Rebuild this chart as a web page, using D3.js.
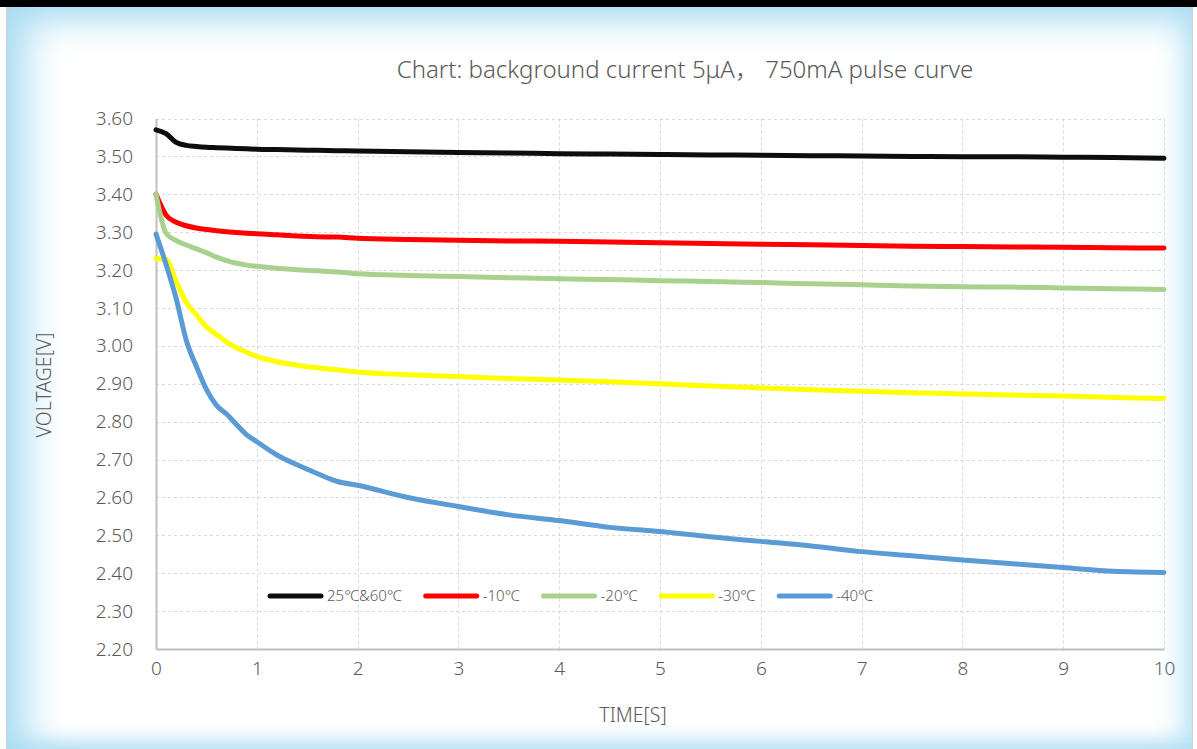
<!DOCTYPE html>
<html>
<head>
<meta charset="utf-8">
<script src="https://cdn.jsdelivr.net/npm/d3@7"></script>
<style>
	body { margin: 0; background: #fff; width: 1197px; height: 749px; overflow: hidden; position: relative; }
	#topbar { position: absolute; left: 0; top: 0; width: 1197px; height: 7px; background: #000; }
	#frame {
		position: absolute; left: 6px; top: 7px; width: 1185px; height: 742px;
		border-left: 1px solid #d0d0d0; border-right: 1px solid #d0d0d0;
		background: #fff;
		box-shadow: inset 45px 0 40px -25px #a9dcf2, inset 0 35px 35px -22px #a9dcf2,
			inset -25px 0 30px -18px #b3e0f3, inset 0 -18px 20px -10px #b3e0f3;
	}
	#chart { position: absolute; left: 0; top: 0; }
	text { font-family: "Noto Sans", "Noto Sans CJK SC", sans-serif; font-weight: 300; fill: #595959; }
</style>
</head>
<body>
<div id="topbar"></div>
<div id="frame"></div>
<div id="chart"></div>
<script>
(function() {
	var width = 1197,
		height = 749;

	// time in seconds
	var times = [0, 0.1, 0.2, 0.3, 0.4, 0.5, 0.6, 0.7, 0.8, 0.9, 1.0, 1.2, 1.4, 1.6, 1.8,
		2, 2.5, 3, 3.5, 4, 4.5, 5, 5.5, 6, 6.5, 7, 7.5, 8, 8.5, 9, 9.5, 10];

	var v25 = [3.570, 3.560, 3.537, 3.529, 3.526, 3.524, 3.523, 3.522, 3.521, 3.520, 3.519, 3.518, 3.517, 3.516, 3.515,
		3.514, 3.512, 3.510, 3.509, 3.507, 3.506, 3.505, 3.504, 3.503, 3.502, 3.501, 3.500, 3.499, 3.499, 3.498, 3.497, 3.495];
	var vm10 = [3.400, 3.345, 3.326, 3.317, 3.311, 3.307, 3.304, 3.301, 3.299, 3.297, 3.296, 3.293, 3.290, 3.288, 3.287,
		3.284, 3.281, 3.279, 3.277, 3.276, 3.274, 3.272, 3.270, 3.268, 3.267, 3.265, 3.263, 3.262, 3.261, 3.260, 3.259, 3.258];
	var vm20 = [3.400, 3.297, 3.278, 3.266, 3.256, 3.246, 3.234, 3.225, 3.218, 3.213, 3.210, 3.205, 3.201, 3.198, 3.195,
		3.190, 3.186, 3.183, 3.180, 3.177, 3.175, 3.172, 3.170, 3.167, 3.164, 3.161, 3.158, 3.156, 3.155, 3.153, 3.151, 3.149];
	var vm30 = [3.230, 3.228, 3.170, 3.115, 3.082, 3.050, 3.030, 3.010, 2.995, 2.983, 2.972, 2.958, 2.949, 2.942, 2.937,
		2.931, 2.924, 2.919, 2.914, 2.910, 2.905, 2.900, 2.894, 2.889, 2.884, 2.880, 2.876, 2.873, 2.870, 2.868, 2.864, 2.861];
	var vm40 = [3.295, 3.215, 3.125, 3.015, 2.946, 2.885, 2.843, 2.820, 2.792, 2.765, 2.747, 2.712, 2.686, 2.663, 2.642,
		2.632, 2.600, 2.576, 2.554, 2.539, 2.521, 2.510, 2.496, 2.484, 2.472, 2.457, 2.446, 2.435, 2.425, 2.415, 2.405, 2.402];

	var seriesNames = ["25℃&60℃", "-10℃", "-20℃", "-30℃", "-40℃"];
	var seriesValues = [v25, vm10, vm20, vm30, vm40];
	var colors = ["#0d0d0d", "#ff0000", "#a9d18e", "#ffff00", "#5b9bd5"];

	var xTicks = [0, 1, 2, 3, 4, 5, 6, 7, 8, 9, 10];
	var yTicks = [2.2, 2.3, 2.4, 2.5, 2.6, 2.7, 2.8, 2.9, 3.0, 3.1, 3.2, 3.3, 3.4, 3.5, 3.6];

	var titleText = "Chart: background current 5μA，  750mA pulse curve";
	var xTitle = "TIME[S]";
	var yTitle = "VOLTAGE[V]";

	var svg = d3.select("#chart")
		.append("svg")
		.attr("width", width)
		.attr("height", height)

	var x = d3.scaleLinear().domain([0, 10]).range([156, 1164])
	var y = d3.scaleLinear().domain([2.2, 3.6]).range([649, 118.5])

	// grid
	svg.append("g")
		.selectAll("line.hg")
		.data(yTicks.slice(1))
		.enter().append("line")
		.attr("x1", x(0))
		.attr("x2", x(10))
		.attr("y1", function(d) { return Math.round(y(d)) + 0.5 })
		.attr("y2", function(d) { return Math.round(y(d)) + 0.5 })
		.attr("stroke", "#d9d9d9")
		.attr("stroke-dasharray", "3,3")

	svg.append("g")
		.selectAll("line.vg")
		.data(xTicks.slice(1))
		.enter().append("line")
		.attr("x1", function(d) { return Math.round(x(d)) + 0.5 })
		.attr("x2", function(d) { return Math.round(x(d)) + 0.5 })
		.attr("y1", y(3.6))
		.attr("y2", y(2.2))
		.attr("stroke", "#d9d9d9")
		.attr("stroke-dasharray", "3,3")

	// axes
	var xAxis = svg.append("g")
		.attr("transform", "translate(0," + y(2.2) + ")")
		.call(d3.axisBottom(x).tickValues(xTicks).tickSize(0).tickPadding(13).tickFormat(d3.format("d")))
	var yAxis = svg.append("g")
		.attr("transform", "translate(" + x(0) + ",0)")
		.call(d3.axisLeft(y).tickValues(yTicks).tickSize(0).tickPadding(23).tickFormat(d3.format(".2f")))

	xAxis.select(".domain").attr("stroke", "#bfbfbf").attr("stroke-width", 2)
	yAxis.select(".domain").attr("stroke", "#bfbfbf").attr("stroke-width", 2)
	svg.selectAll(".tick text")
		.attr("fill", "#595959")
		.style("font-size", "19px")
		.style("font-weight", "300")
		.style("font-family", "'Noto Sans', 'Noto Sans CJK SC', sans-serif")

	// lines
	var line = d3.line()
		.x(function(d, i) { return x(times[i]) })
		.y(function(d) { return y(d) })
		.curve(d3.curveMonotoneX)

	svg.append("g")
		.selectAll("path")
		.data(seriesValues)
		.enter().append("path")
		.attr("d", line)
		.attr("fill", "none")
		.attr("stroke", function(d, i) { return colors[i] })
		.attr("stroke-width", 5)
		.attr("stroke-linecap", "round")
		.attr("stroke-linejoin", "round")

	// legend
	var legend = svg.append("g").attr("transform", "translate(268,596)")
	var lx = 0
	seriesNames.forEach(function(name, i) {
		var item = legend.append("g").attr("transform", "translate(" + lx + ",0)")
		item.append("line")
			.attr("x1", 2).attr("x2", 53)
			.attr("stroke", colors[i])
			.attr("stroke-width", 5)
			.attr("stroke-linecap", "round")
		var t = item.append("text")
			.attr("x", 59)
			.attr("dy", "0.35em")
			.style("font-size", "15px")
			.text(name)
		lx += 59 + t.node().getComputedTextLength() + 22
	})

	// titles
	svg.append("text")
		.attr("x", 685)
		.attr("y", 78)
		.attr("text-anchor", "middle")
		.style("font-size", "24px")
		.text(titleText)

	svg.append("text")
		.attr("x", 633)
		.attr("y", 722)
		.attr("text-anchor", "middle")
		.style("font-size", "19.5px")
		.text(xTitle)

	svg.append("text")
		.attr("transform", "translate(51,385) rotate(-90)")
		.attr("text-anchor", "middle")
		.style("font-size", "19.5px")
		.text(yTitle)

})();
</script>
</body>
</html>
